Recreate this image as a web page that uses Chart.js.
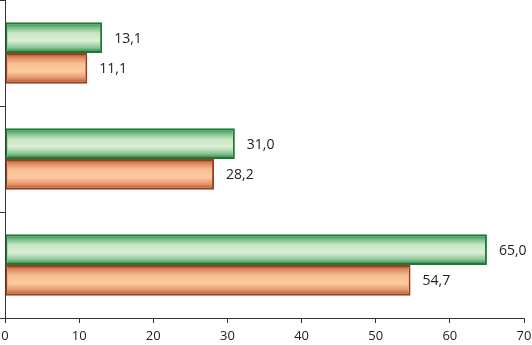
<!DOCTYPE html>
<html>
<head>
<meta charset="utf-8">
<script src="https://cdn.jsdelivr.net/npm/chart.js@4/dist/chart.umd.min.js"></script>
<style>
html,body{margin:0;padding:0;background:#fff;}
#wrap{width:532px;height:345px;position:relative;}
</style>
</head>
<body>
<div id="wrap"><canvas id="c" width="532" height="345"></canvas></div>
<script>
const categories = ["A", "B", "C"];
const seriesGreen = [13.1, 31.0, 65.0];
const seriesOrange = [11.1, 28.2, 54.7];
const xTicks = [0, 10, 20, 30, 40, 50, 60, 70];

const FONT = "'Open Sans', sans-serif";

const gradientPlugin = {
  id: 'barGradients',
  beforeDatasetsDraw(chart) {
    const ctx = chart.ctx;
    const stops = [
      [[0,'#187a36'],[0.15,'#6fb87e'],[0.35,'#c9e6c4'],[0.6,'#dcefd6'],[0.82,'#8cc795'],[1,'#187a36']],
      [[0,'#a0401f'],[0.15,'#dc8c62'],[0.35,'#f9c093'],[0.6,'#fcca9f'],[0.82,'#e3946a'],[1,'#a0401f']]
    ];
    chart.data.datasets.forEach((ds, di) => {
      const meta = chart.getDatasetMeta(di);
      meta.data.forEach(el => {
        const top = el.y - el.height / 2;
        const g = ctx.createLinearGradient(0, top, 0, top + el.height);
        stops[di].forEach(s => g.addColorStop(s[0], s[1]));
        el.options = Object.assign({}, el.options, { backgroundColor: g });
      });
    });
  }
};

const labelPlugin = {
  id: 'valueLabels',
  afterDatasetsDraw(chart) {
    const ctx = chart.ctx;
    ctx.save();
    ctx.font = "14px " + FONT;
    ctx.fillStyle = '#222';
    ctx.textBaseline = 'middle';
    ctx.textAlign = 'left';
    chart.data.datasets.forEach((ds, di) => {
      const meta = chart.getDatasetMeta(di);
      meta.data.forEach((el, i) => {
        const txt = ds.data[i].toFixed(1).replace('.', ',');
        ctx.fillText(txt, el.x + 12, el.y + 1);
      });
    });
    ctx.restore();
  }
};

new Chart(document.getElementById('c'), {
  type: 'bar',
  data: {
    labels: categories,
    datasets: [
      { label: 'green', data: seriesGreen, borderColor: '#1b7a38', borderWidth: 2, borderSkipped: false, backgroundColor: '#cfe9cb' },
      { label: 'orange', data: seriesOrange, borderColor: '#9c3e1e', borderWidth: 2, borderSkipped: false, backgroundColor: '#fbc495' }
    ]
  },
  options: {
    indexAxis: 'y',
    responsive: false,
    animation: false,
    devicePixelRatio: 1,
    layout: { padding: { top: 0, right: 0, bottom: 0, left: 0 } },
    plugins: { legend: { display: false }, tooltip: { enabled: false } },
    datasets: { bar: { categoryPercentage: 0.58, barPercentage: 1.0 } },
    scales: {
      x: {
        min: 0, max: 70,
        afterBuildTicks(axis) { axis.ticks = xTicks.map(v => ({ value: v })); },
        afterFit(axis) { axis.height = 27; axis.paddingRight = 8; axis.paddingLeft = 0; },
        grid: { drawOnChartArea: false, drawTicks: true, tickLength: 5, color: '#333' },
        border: { display: true, color: '#333', width: 1 },
        ticks: { color: '#222', font: { family: FONT, size: 13 }, padding: 5, maxRotation: 0 }
      },
      y: {
        afterFit(axis) { axis.width = 5; },
        grid: { drawOnChartArea: false, drawTicks: true, tickLength: 5, color: '#333', offset: true },
        border: { display: true, color: '#333', width: 1 },
        ticks: { display: false }
      }
    }
  },
  plugins: [gradientPlugin, labelPlugin]
});
</script>
</body>
</html>
